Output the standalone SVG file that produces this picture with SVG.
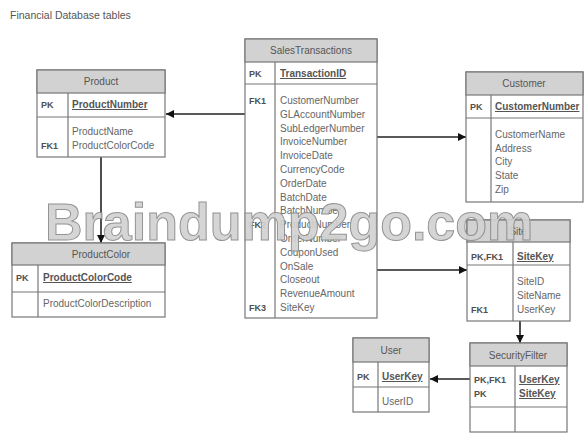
<svg xmlns="http://www.w3.org/2000/svg" width="584" height="434" viewBox="0 0 584 434">
<style>
.box{fill:#fff;stroke:#777;stroke-width:1.2}
.hdr{fill:#d2d2d2;stroke:#777;stroke-width:1.2}
.ln{stroke:#777;stroke-width:1.2;fill:none}
.t{font-family:"Liberation Sans",Arial,sans-serif;font-size:10px;fill:#666}
.h{font-family:"Liberation Sans",Arial,sans-serif;font-size:10px;fill:#555;text-anchor:middle}
.k{font-family:"Liberation Sans",Arial,sans-serif;font-size:9px;fill:#505050;font-weight:bold}
.u{font-family:"Liberation Sans",Arial,sans-serif;font-size:10px;fill:#555;font-weight:bold;text-decoration:underline}
.c{stroke:#222;stroke-width:1.6;fill:none}
.wm{font-family:"Liberation Sans",Arial,sans-serif;font-size:52px;font-weight:bold;fill:#d2d2d2;stroke:#8c8c8c;stroke-width:1;opacity:0.92}
</style>
<defs>
<marker id="ah" viewBox="0 0 10 10" refX="10" refY="5" markerWidth="8" markerHeight="8" markerUnits="userSpaceOnUse" orient="auto">
<path d="M0,0 L10,5 L0,10 z" fill="#111"/>
</marker>
</defs>
<rect width="584" height="434" fill="#fff"/>
<text x="10" y="19" font-family="Liberation Sans,Arial,sans-serif" font-size="10.5" fill="#555">Financial Database tables</text>

<g id="connectors">
<line class="c" x1="245" y1="114" x2="166" y2="114" marker-end="url(#ah)"/>
<line class="c" x1="101" y1="157" x2="101" y2="243" marker-end="url(#ah)"/>
<line class="c" x1="377" y1="137" x2="466" y2="137" marker-end="url(#ah)"/>
<line class="c" x1="377" y1="270" x2="467" y2="270" marker-end="url(#ah)"/>
<line class="c" x1="520" y1="321" x2="520" y2="343" marker-end="url(#ah)"/>
<line class="c" x1="470" y1="379" x2="430" y2="379" marker-end="url(#ah)"/>
</g>

<g id="Product">
<rect class="box" x="37" y="70" width="128" height="87"/>
<rect class="hdr" x="37" y="70" width="128" height="23"/>
<line class="ln" x1="37" y1="117" x2="165" y2="117"/>
<line class="ln" x1="68" y1="93" x2="68" y2="157"/>
<text class="h" x="101" y="85">Product</text>
<text class="k" x="41" y="108">PK</text>
<text class="u" x="72" y="108">ProductNumber</text>
<text class="t" x="72" y="135">ProductName</text>
<text class="k" x="41" y="149">FK1</text>
<text class="t" x="72" y="149">ProductColorCode</text>
</g>

<g id="ProductColor">
<rect class="box" x="12" y="243" width="153" height="74"/>
<rect class="hdr" x="12" y="243" width="153" height="22"/>
<line class="ln" x1="12" y1="292" x2="165" y2="292"/>
<line class="ln" x1="38" y1="265" x2="38" y2="317"/>
<text class="h" x="101" y="258">ProductColor</text>
<text class="k" x="16" y="281">PK</text>
<text class="u" x="43" y="281">ProductColorCode</text>
<text class="t" x="43" y="307">ProductColorDescription</text>
</g>

<g id="SalesTransactions">
<rect class="box" x="245" y="39" width="132" height="279"/>
<rect class="hdr" x="245" y="39" width="132" height="23"/>
<line class="ln" x1="245" y1="84" x2="377" y2="84"/>
<line class="ln" x1="275" y1="62" x2="275" y2="318"/>
<text class="h" x="311" y="54">SalesTransactions</text>
<text class="k" x="249" y="77">PK</text>
<text class="u" x="280" y="77">TransactionID</text>
<text class="k" x="249" y="104">FK1</text>
<text class="t" x="280" y="104">CustomerNumber</text>
<text class="t" x="280" y="117.8">GLAccountNumber</text>
<text class="t" x="280" y="131.6">SubLedgerNumber</text>
<text class="t" x="280" y="145.4">InvoiceNumber</text>
<text class="t" x="280" y="159.2">InvoiceDate</text>
<text class="t" x="280" y="173">CurrencyCode</text>
<text class="t" x="280" y="186.8">OrderDate</text>
<text class="t" x="280" y="200.6">BatchDate</text>
<text class="t" x="280" y="214.4">BatchNumber</text>
<text class="k" x="249" y="228.2">FK2</text>
<text class="t" x="280" y="228.2">ProductNumber</text>
<text class="t" x="280" y="242">OrderNumber</text>
<text class="t" x="280" y="255.8">CouponUsed</text>
<text class="t" x="280" y="269.6">OnSale</text>
<text class="t" x="280" y="283.4">Closeout</text>
<text class="t" x="280" y="297.2">RevenueAmount</text>
<text class="k" x="249" y="311">FK3</text>
<text class="t" x="280" y="311">SiteKey</text>
</g>

<g id="Customer">
<rect class="box" x="466" y="72" width="117" height="130"/>
<rect class="hdr" x="466" y="72" width="117" height="23"/>
<line class="ln" x1="466" y1="118" x2="583" y2="118"/>
<line class="ln" x1="491" y1="95" x2="491" y2="202"/>
<text class="h" x="524" y="87">Customer</text>
<text class="k" x="470" y="110">PK</text>
<text class="u" x="495" y="110">CustomerNumber</text>
<text class="t" x="495" y="138">CustomerName</text>
<text class="t" x="495" y="152">Address</text>
<text class="t" x="495" y="165">City</text>
<text class="t" x="495" y="179">State</text>
<text class="t" x="495" y="193">Zip</text>
</g>

<g id="Site">
<rect class="box" x="467" y="220" width="103" height="101"/>
<rect class="hdr" x="467" y="220" width="103" height="22"/>
<line class="ln" x1="467" y1="265" x2="570" y2="265"/>
<line class="ln" x1="513" y1="242" x2="513" y2="321"/>
<text class="h" x="518" y="235">Site</text>
<text class="k" x="471" y="260">PK,FK1</text>
<text class="u" x="517" y="260">SiteKey</text>
<text class="t" x="517" y="285">SiteID</text>
<text class="t" x="517" y="299">SiteName</text>
<text class="k" x="471" y="313">FK1</text>
<text class="t" x="517" y="313">UserKey</text>
</g>

<g id="User">
<rect class="box" x="353" y="338" width="76" height="74"/>
<rect class="hdr" x="353" y="338" width="76" height="24"/>
<line class="ln" x1="353" y1="387" x2="429" y2="387"/>
<line class="ln" x1="378" y1="362" x2="378" y2="412"/>
<text class="h" x="391" y="354">User</text>
<text class="k" x="357" y="380">PK</text>
<text class="u" x="382" y="380">UserKey</text>
<text class="t" x="382" y="405">UserID</text>
</g>

<g id="SecurityFilter">
<rect class="box" x="470" y="343" width="97" height="89"/>
<rect class="hdr" x="470" y="343" width="97" height="23"/>
<line class="ln" x1="470" y1="407" x2="567" y2="407"/>
<line class="ln" x1="515" y1="366" x2="515" y2="432"/>
<text class="h" x="518" y="359">SecurityFilter</text>
<text class="k" x="474" y="383">PK,FK1</text>
<text class="k" x="474" y="397">PK</text>
<text class="u" x="519" y="383">UserKey</text>
<text class="u" x="519" y="397">SiteKey</text>
</g>

<text class="wm" x="45" y="240">Braindump2go.com</text>
</svg>
